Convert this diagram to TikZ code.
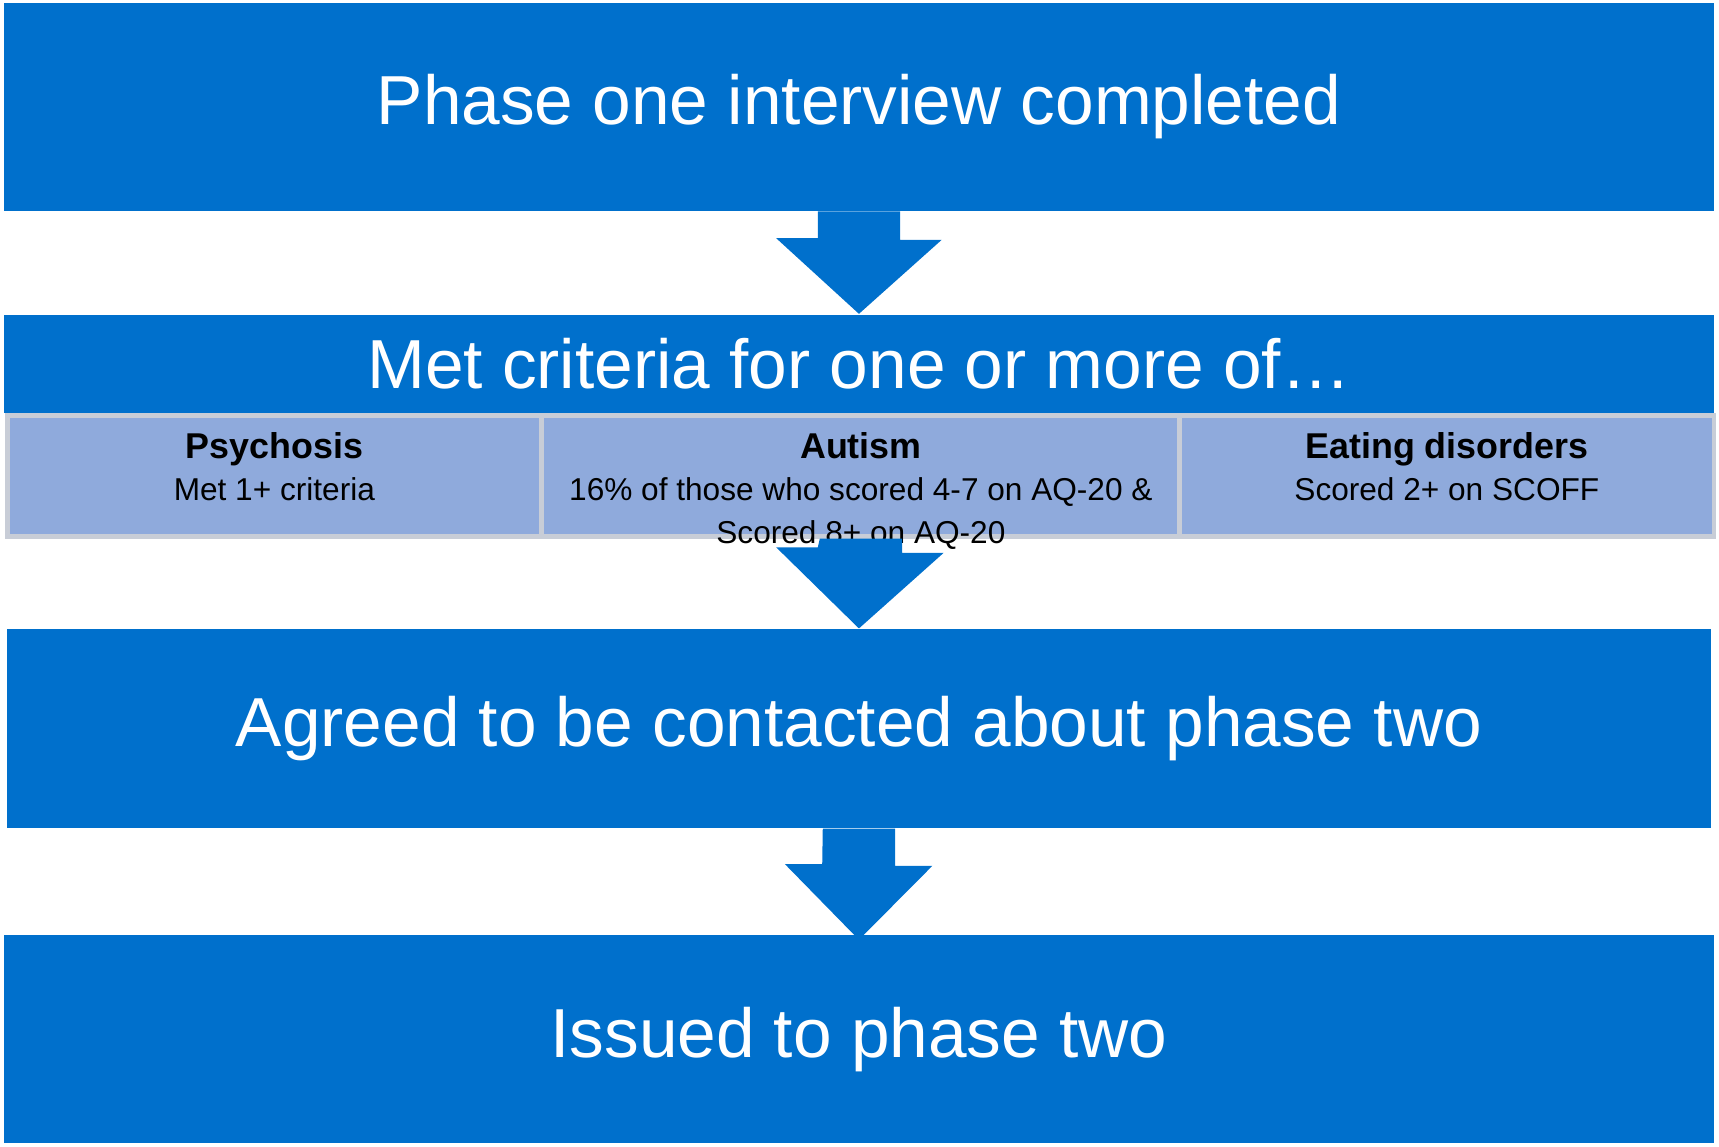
\documentclass[tikz,border=0pt]{standalone}
\usepackage{fontspec}
\setmainfont{Liberation Sans}
\usetikzlibrary{positioning,calc}
\definecolor{nhsblue}{RGB}{0,112,204}
\definecolor{paleblue}{RGB}{143,170,220}
\definecolor{cellline}{RGB}{200,205,215}

\begin{document}
\begin{tikzpicture}[x=0.01cm,y=-0.01cm,
    box/.style={fill=nhsblue, text=white, inner sep=0pt, font=\fontsize{18}{22}\selectfont},
    cell/.style={fill=paleblue, draw=cellline, line width=1.2pt, inner sep=0pt, anchor=north west,
      align=center, text depth=0pt, font=\fontsize{8.2}{10.2}\selectfont},
    ttl/.style={font=\bfseries\fontsize{9.3}{11}\selectfont}]
    \useasboundingbox (0,0) rectangle (1568,1046);

    \node[box, minimum width=15.59cm, minimum height=1.89cm] (start) at (783.5,97.5) {Phase one interview completed};
    \node[box, minimum width=15.59cm, minimum height=0.90cm] (met) at (783.5,332) {Met criteria for one or more of\dots};
    \node[box, minimum width=15.53cm, minimum height=1.81cm] (agree) at (783.5,664.5) {Agreed to be contacted about phase two};
    \node[box, minimum width=15.59cm, minimum height=1.90cm] (issued) at (783.5,948) {Issued to phase two};

    % criteria cells
    \node[cell, minimum width=4.86cm, minimum height=1.10cm] (psy) at (5,377) {};
    \node[cell, minimum width=5.82cm, minimum height=1.10cm] (aut) at (492,377) {};
    \node[cell, minimum width=4.87cm, minimum height=1.10cm] (eat) at (1074,377) {};
    \node[below=0.05cm of psy.north, align=center] {{\bfseries\fontsize{9.3}{11}\selectfont Psychosis}\\[-1pt]
      {\fontsize{8.2}{10}\selectfont Met 1+ criteria}};
    \node[below=0.05cm of aut.north, align=center] {{\bfseries\fontsize{9.3}{11}\selectfont Autism}\\[-1pt]
      {\fontsize{8.2}{10}\selectfont 16\% of those who scored 4-7 on AQ-20 \&}\\[-1pt]
      {\fontsize{8.2}{10}\selectfont Scored 8+ on AQ-20}};
    \node[below=0.05cm of eat.north, align=center] {{\bfseries\fontsize{9.3}{11}\selectfont Eating disorders}\\[-1pt]
      {\fontsize{8.2}{10}\selectfont Scored 2+ on SCOFF}};

    % block arrows
    \fill[nhsblue] ($(start.south)+(-37.5,0)$) -- ($(start.south)+(37.5,0)$) -- ++(0,26) -- ++(38,0)
      -- (met.north) -- ++(-75.5,-69) -- ++(38,0) -- cycle;
    \fill[nhsblue] ($(aut.south)+(-37.5,0)$) -- ($(aut.south)+(37.5,0)$) -- ++(0,13) -- ++(38,0)
      -- (agree.north) -- ++(-75.5,-74) -- ++(38,0) -- cycle;
    \fill[nhsblue] ($(agree.south)+(-33,0)$) -- ($(agree.south)+(33,0)$) -- ++(0,34) -- ++(34,0)
      -- ($(issued.north)+(0,5)$) -- ++(-67.5,-69) -- ++(34,0) -- cycle;
\end{tikzpicture}
\end{document}
